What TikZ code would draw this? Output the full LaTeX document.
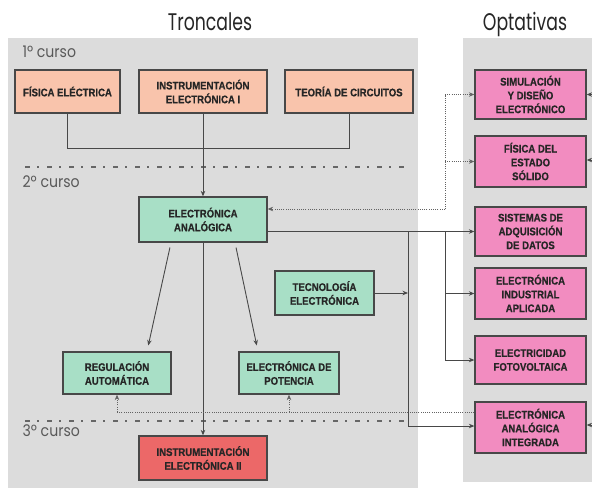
\documentclass[tikz,border=0pt]{standalone}
\usepackage{fontspec}
\setmainfont{Liberation Sans}
\newfontfamily\boxfont{Liberation Sans}[FakeStretch=0.87,FakeBold=0.6]
\newfontfamily\titlefont{Poppins}
\usetikzlibrary{arrows.meta}
\definecolor{panelgray}{HTML}{DCDCDC}
\definecolor{salmon}{HTML}{F9C4AC}
\definecolor{mint}{HTML}{A8DFC6}
\definecolor{pinkbox}{HTML}{F28CC0}
\definecolor{redbox}{HTML}{EC6868}
\definecolor{edge}{HTML}{484848}
\definecolor{txt}{HTML}{262626}
\begin{document}
\begin{tikzpicture}[x=1pt,y=-1pt,
  box/.style={draw=edge, line width=1.3pt, align=center, inner sep=1pt,
    font=\boxfont\bfseries\fontsize{11}{13.8}\selectfont, text=txt},
  salbox/.style={box, fill=salmon},
  greenbox/.style={box, fill=mint},
  pbox/.style={box, fill=pinkbox, minimum width=111pt},
  conn/.style={draw=edge, line width=0.9pt},
  arr/.style={conn, -{Stealth[length=5.5pt,width=4.5pt]}},
  dotline/.style={draw=edge!85, line width=0.8pt, dash pattern=on 1pt off 1.2pt},
  dotarr/.style={dotline, -{Stealth[length=5.5pt,width=4.5pt]}},
  yearline/.style={draw=black!60, line width=1.6pt, dash pattern=on 5pt off 7pt on 1.5pt off 8.5pt},
  title/.style={font=\titlefont\fontsize{24}{26}\selectfont, text=txt},
  curso/.style={font=\titlefont\fontsize{16}{18}\selectfont, text=black!65, anchor=west}
]
\useasboundingbox (0,0) rectangle (592,488);
\fill[white] (0,0) rectangle (592,488);
% panels
\fill[panelgray] (8,38) rectangle (418,488);
\fill[panelgray] (463,38) rectangle (592,482);
% titles
\node[title] (ttron) at (210,22) {\scalebox{0.72}[1]{Troncales}};
\node[title] (topt) at (525,24) {\scalebox{0.72}[1]{Optativas}};
% course labels
\node[curso] (c1) at (19,52) {\scalebox{0.88}[1]{1º curso}};
\node[curso] (c2) at (19,182) {\scalebox{0.88}[1]{2º curso}};
\node[curso] (c3) at (19,431) {\scalebox{0.88}[1]{3º curso}};
% year separators
\coordinate (y1a) at (25,167); \coordinate (y1b) at (408,167);
\coordinate (y2a) at (25,421); \coordinate (y2b) at (410,421);
\draw[yearline] (y1a) -- (y1b);
\draw[yearline] (y2a) -- (y2b);
% first year
\node[salbox, minimum width=105pt, minimum height=43pt] (fe) at (67.5,91.5) {FÍSICA ELÉCTRICA};
\node[salbox, minimum width=128pt, minimum height=43pt] (ie1) at (203,91.5) {INSTRUMENTACIÓN\\ELECTRÓNICA I};
\node[salbox, minimum width=128pt, minimum height=43pt] (tc) at (349,91.5) {TEORÍA DE CIRCUITOS};
% second year
\node[greenbox, minimum width=128pt, minimum height=45pt] (ea) at (203,219.5) {ELECTRÓNICA\\ANALÓGICA};
\node[greenbox, minimum width=99pt, minimum height=44pt] (te) at (324.5,293) {TECNOLOGÍA\\ELECTRÓNICA};
\node[greenbox, minimum width=108pt, minimum height=42pt] (ra) at (117,373) {REGULACIÓN\\AUTOMÁTICA};
\node[greenbox, minimum width=100pt, minimum height=42pt] (ep) at (289,373) {ELECTRÓNICA DE\\POTENCIA};
% third year
\node[box, fill=redbox, minimum width=128pt, minimum height=44pt] (ie2) at (203,458) {INSTRUMENTACIÓN\\ELECTRÓNICA II};
% optional
\node[pbox, minimum height=49pt] (sim) at (530.5,94.5) {SIMULACIÓN\\Y DISEÑO\\ELECTRÓNICO};
\node[pbox, minimum height=51pt] (fes) at (530.5,161.5) {FÍSICA DEL\\ESTADO\\SÓLIDO};
\node[pbox, minimum height=49pt] (sad) at (530.5,231.5) {SISTEMAS DE\\ADQUISICIÓN\\DE DATOS};
\node[pbox, minimum height=51pt] (eia) at (530.5,293.5) {ELECTRÓNICA\\INDUSTRIAL\\APLICADA};
\node[pbox, minimum height=48pt] (ef) at (530.5,360) {ELECTRICIDAD\\FOTOVOLTAICA};
\node[pbox, minimum height=51pt] (eai) at (530.5,427.5) {ELECTRÓNICA\\ANALÓGICA\\INTEGRADA};
% first-year connections
\coordinate (j1) at (67.5,148);
\draw[conn] (fe.south) -- (j1) -| (tc.south);
\draw[arr] (ie1.south) -- (ea.north);
\draw[arr] (ea.south) -- (ie2.north);
\draw[arr, shorten <=5pt, shorten >=6pt] ([xshift=-32pt]ea.south) -- ([xshift=30pt]ra.north);
\draw[arr, shorten <=5pt, shorten >=6pt] ([xshift=32pt]ea.south) -- ([xshift=-31pt]ep.north);
% solid links to optional
\coordinate (s1) at (408,231.5);
\coordinate (s2) at (445,231.5);
\draw[arr] (ea.east |- sad.west) -- (sad.west);
\draw[arr] (s1) |- ([yshift=1.5pt]eai.west);
\draw[arr] (s2) |- (eia.west);
\draw[arr] (s2) |- (ef.west);
\draw[arr] (te.east) -- (te.east -| s1);
% dotted links top
\coordinate (d1) at (445,209);
\coordinate (d2) at (445,94.5);
\coordinate (d3) at (445,161.5);
\draw[dotarr] (d1) -- (ea.east |- d1);
\draw[dotarr] (d1) -- (d2) -- (sim.west);
\draw[dotarr] (d3) -- (fes.west);
% dotted links bottom
\coordinate (b0) at ([yshift=15.5pt]eai.west);
\coordinate (b1) at (ra.south |- b0);
\coordinate (b2) at (ep.south |- b0);
\draw[dotline] (b0) -- (b1);
\draw[dotarr] (b1) -- (ra.south);
\draw[dotarr] (b2) -- (ep.south);
% arrows from the right edge
\coordinate (r1) at (592,94.5);
\coordinate (r2) at (592,160);
\coordinate (r3) at (592,425);
\draw[arr] (r1) -- (sim.east);
\draw[arr] (r2) -- (r2 -| fes.east);
\draw[arr] (r3) -- (r3 -| eai.east);
\end{tikzpicture}
\end{document}
